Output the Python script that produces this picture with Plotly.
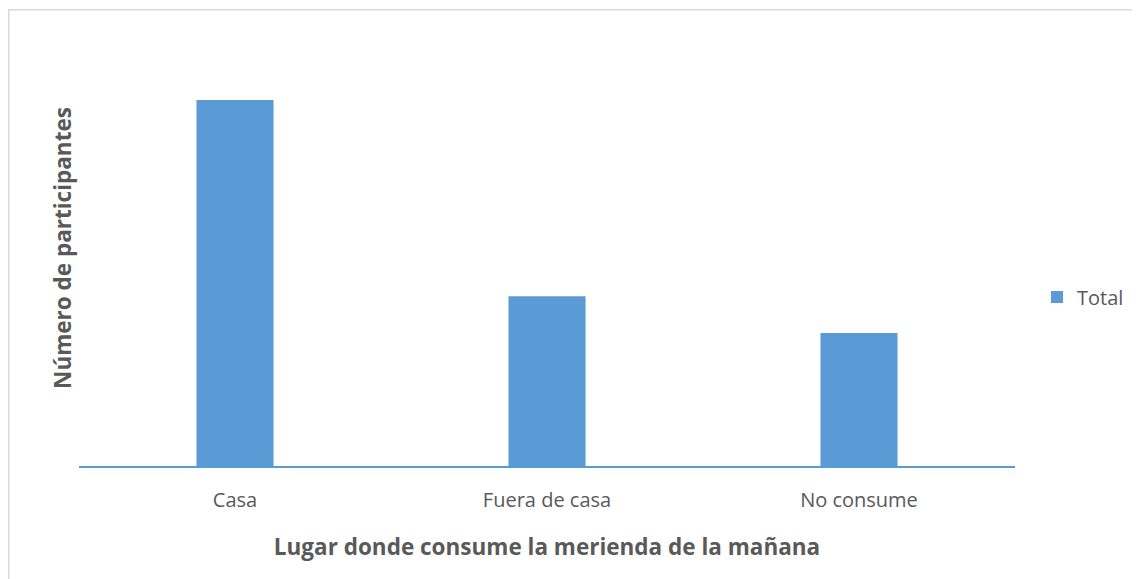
import plotly.graph_objects as go

categories = ["Casa", "Fuera de casa", "No consume"]
totals = [110, 51, 40]
series_name = "Total"

# page has an 8px body margin, so the figure is drawn 8px in from the window edge
W, H = 1132, 571
L, R, T, B = 71, 125, 22, 113
pw = W - L - R
ph = H - T - B

fig = go.Figure()
fig.add_trace(go.Bar(
    x=categories, y=totals, name=series_name,
    marker=dict(color="#5B9BD5", line=dict(width=0)),
    width=0.247,
))

def px2x(p):
    return (p - L) / pw

def py2y(p):
    return (H - B - p) / ph

fig.add_shape(type="rect", xref="paper", yref="paper",
              x0=px2x(0.8), x1=px2x(1150), y0=py2y(1.8), y1=py2y(600),
              line=dict(color="#D9D9D9", width=1.5), fillcolor="rgba(0,0,0,0)", layer="below")

fig.update_layout(
    width=W, height=H,
    margin=dict(l=L, r=R, t=T, b=B, autoexpand=False),
    paper_bgcolor="white", plot_bgcolor="white",
    font=dict(family="Open Sans, Liberation Sans, sans-serif", color="#595959", size=20),
    showlegend=True,
    legend=dict(x=px2x(1029), y=py2y(289), xanchor="left", yanchor="middle",
                font=dict(size=20, color="#595959"), itemwidth=30, bgcolor="rgba(0,0,0,0)"),
)
fig.update_xaxes(
    showline=True, linecolor="#5B9BD5", linewidth=2, ticks="", showgrid=False,
    tickfont=dict(size=20, color="#595959"), ticklabelstandoff=15,
    title=dict(text="<b>Lugar donde consume la merienda de la mañana</b>",
               font=dict(size=22.5, color="#595959"), standoff=27),
)
fig.update_yaxes(
    range=[0, ph / (366 / 110)], showticklabels=False, showgrid=False, zeroline=False,
    showline=False, ticks="",
    title=dict(text="<b>Número de participantes</b>", font=dict(size=22.5, color="#595959"), standoff=0),
)
fig.write_html("out.html")
